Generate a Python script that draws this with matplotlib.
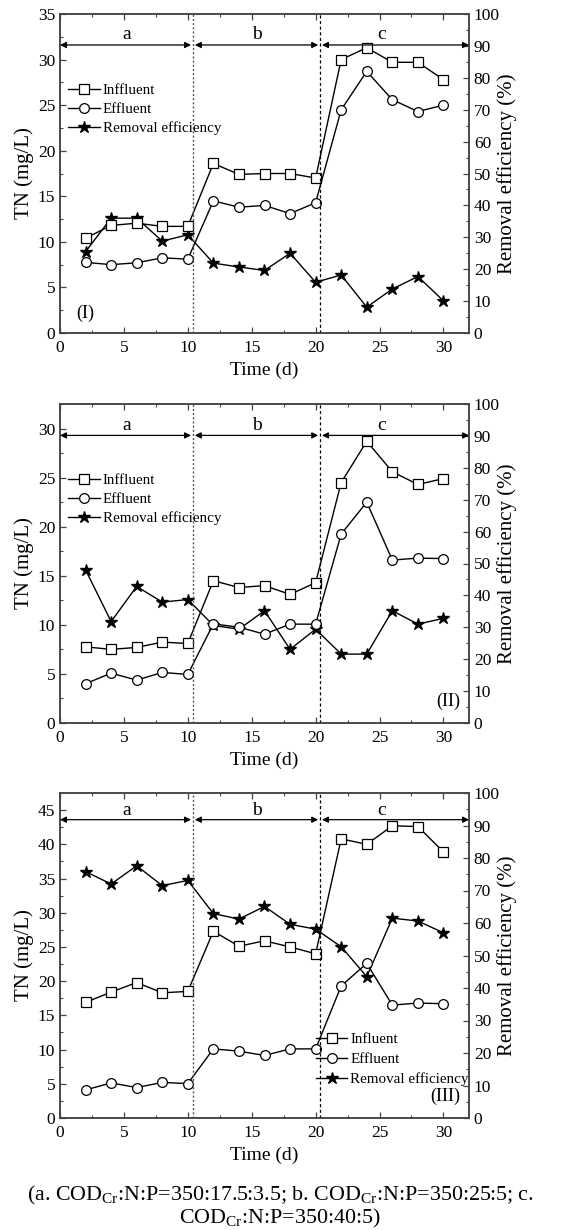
import matplotlib
matplotlib.use("Agg")
import matplotlib.pyplot as plt
from matplotlib.ticker import MultipleLocator

plt.rcParams['font.family'] = ['Liberation Serif', 'DejaVu Serif']
plt.rcParams['mathtext.fontset'] = 'custom'
plt.rcParams['mathtext.rm'] = 'Liberation Serif'
plt.rcParams['mathtext.it'] = 'Liberation Serif:italic'

days = [2, 4, 6, 8, 10, 12, 14, 16, 18, 20, 22, 24, 26, 28, 30]

# Panel I
inf1 = [10.4, 11.8, 12.05, 11.7, 11.7, 18.6, 17.4, 17.5, 17.5, 17.0, 30.0, 31.3, 29.7, 29.7, 27.8]
eff1 = [7.75, 7.5, 7.7, 8.25, 8.1, 14.5, 13.8, 14.0, 13.1, 14.3, 24.5, 28.7, 25.6, 24.3, 25.0]
rem1 = [25.5, 36.0, 36.0, 28.8, 30.8, 21.9, 20.7, 19.6, 25.0, 15.9, 18.2, 8.1, 13.8, 17.7, 10.1]
# Panel II
inf2 = [7.76, 7.5, 7.7, 8.24, 8.1, 14.5, 13.8, 14.0, 13.1, 14.3, 24.5, 28.7, 25.6, 24.3, 24.9]
eff2 = [4.0, 5.08, 4.37, 5.15, 4.95, 10.1, 9.76, 9.05, 10.07, 10.07, 19.25, 22.5, 16.6, 16.8, 16.75]
rem2 = [48.0, 31.8, 42.8, 37.9, 38.7, 30.6, 29.4, 35.2, 23.1, 29.4, 21.6, 21.6, 35.2, 31.0, 32.8]
# Panel III
inf3 = [16.9, 18.4, 19.8, 18.3, 18.5, 27.3, 25.1, 25.9, 25.0, 24.0, 40.8, 40.0, 42.7, 42.6, 38.9]
eff3 = [4.1, 5.13, 4.45, 5.2, 5.03, 10.1, 9.77, 9.14, 10.1, 10.1, 19.3, 22.6, 16.5, 16.8, 16.7]
rem3 = [75.8, 72.0, 77.6, 71.5, 73.1, 62.9, 61.2, 65.1, 59.6, 58.1, 52.7, 43.5, 61.5, 60.6, 57.0]

phase_bounds = [0, 10.4, 20.35, 32]
phase_labels = ['a', 'b', 'c']
legend_labels = [['Inffluent', 'Effluent', 'Removal efficiency'],
                 ['Inffluent', 'Effluent', 'Removal efficiency'],
                 ['Influent', 'Effluent', 'Removal efficiency']]
panel_tags = ['(I)', '(II)', '(III)']
ylims = [35, 32.5, 47.5]
ymajor = [5, 5, 5]
arrow_y = [31.6, 29.3, 43.6]
label_y = [32.7, 30.3, 45.0]
caption = ("(a. COD$_{\\mathrm{Cr}}$:N:P=350:17.5:3.5; b. COD$_{\\mathrm{Cr}}$:N:P=350:25:5; c.\n"
           "COD$_{\\mathrm{Cr}}$:N:P=350:40:5)")

W, H = 561, 1230
fig = plt.figure(figsize=(W / 100, H / 100), dpi=100)

boxes = [(60, 14, 469, 333), (60, 404, 469, 723), (60, 793, 469, 1118)]
data = [(inf1, eff1, rem1), (inf2, eff2, rem2), (inf3, eff3, rem3)]

spine_col = '#444444'
TICK_FS = 12.5
for i, (l, t, r, b) in enumerate(boxes):
    ax = fig.add_axes([l / W, 1 - b / H, (r - l) / W, (b - t) / H])
    ax2 = ax.twinx()
    inf, eff, rem = data[i]
    h1, = ax.plot(days, inf, '-s', color='black', lw=1.0, ms=6.5, mfc='white', mec='black', mew=0.9)
    h2, = ax.plot(days, eff, '-o', color='black', lw=1.0, ms=7, mfc='white', mec='black', mew=0.9)
    h3, = ax2.plot(days, rem, '-*', color='black', lw=1.0, ms=9, mfc='black', mec='black')
    ax.set_xlim(0, 32)
    ax.set_ylim(0, ylims[i])
    ax2.set_ylim(0, 100)
    ax.xaxis.set_major_locator(MultipleLocator(5))
    ax.xaxis.set_minor_locator(MultipleLocator(2.5))
    ax.yaxis.set_major_locator(MultipleLocator(ymajor[i]))
    ax.yaxis.set_minor_locator(MultipleLocator(2.5))
    ax2.yaxis.set_major_locator(MultipleLocator(10))
    ax2.yaxis.set_minor_locator(MultipleLocator(5))
    ax.tick_params(axis='both', which='both', direction='in', top=True, right=False,
                   labelsize=TICK_FS, color=spine_col)
    ax.tick_params(which='major', length=4.5, width=0.9)
    ax.tick_params(which='minor', length=2.5, width=0.8)
    ax.tick_params(axis='x', pad=5)
    ax2.tick_params(axis='y', which='both', direction='in', labelsize=TICK_FS, color=spine_col)
    ax2.tick_params(which='major', length=4.5, width=0.9)
    ax2.tick_params(which='minor', length=2.5, width=0.8)
    for a in (ax, ax2):
        for s in a.spines.values():
            s.set_color(spine_col)
            s.set_linewidth(1.1)
    ax.set_xlabel('Time (d)', fontsize=14, labelpad=4)
    ax.set_ylabel('TN (mg/L)', fontsize=15, labelpad=3)
    ax2.set_ylabel('Removal efficiency (%)', fontsize=15, labelpad=-2)

    # phase boundary lines
    ax.axvline(phase_bounds[1], color='#555555', lw=1.0, ls=(0, (1.5, 1.5)))
    ax.axvline(phase_bounds[2], color='black', lw=0.9, ls=(0, (2.5, 2)))
    # phase arrows
    for k in range(3):
        x0 = phase_bounds[k] + (0.15 if k > 0 else 0)
        x1 = phase_bounds[k + 1] - (0.15 if k < 2 else 0)
        ax.annotate('', xy=(x0, arrow_y[i]), xytext=(x1, arrow_y[i]),
                    arrowprops=dict(arrowstyle='<|-|>', color='black', lw=0.9,
                                    mutation_scale=9, shrinkA=0, shrinkB=0))
        ax.text((phase_bounds[k] + phase_bounds[k + 1]) / 2 - (1.0 if k == 2 else 0),
                label_y[i], phase_labels[k], ha='center', va='center', fontsize=14)

    labs = legend_labels[i]
    if i < 2:
        ax.legend([h1, h2, h3], labs, loc='upper left', bbox_to_anchor=(-0.005, 0.815),
                  frameon=False, fontsize=10.8, handlelength=2.1, handletextpad=0.2,
                  labelspacing=0.36, borderaxespad=0.3)
    else:
        ax.legend([h1, h2, h3], labs, loc='lower right', bbox_to_anchor=(1.025, 0.065),
                  frameon=False, fontsize=10.8, handlelength=2.1, handletextpad=0.2,
                  labelspacing=0.42, borderaxespad=0.3)
    if i == 0:
        ax.text(1.3, 2.2, panel_tags[i], fontsize=13, ha='left', va='center')
    else:
        ax.text(31.3, ylims[i] * 0.068, panel_tags[i], fontsize=13, ha='right', va='center')
    ax.set_zorder(ax2.get_zorder() + 1)
    ax.patch.set_visible(False)

fig.text(280 / W, 1 - 1207 / H, caption, ha='center', va='center', fontsize=15.8,
         linespacing=1.05)

fig.savefig('out.png', dpi=100)
